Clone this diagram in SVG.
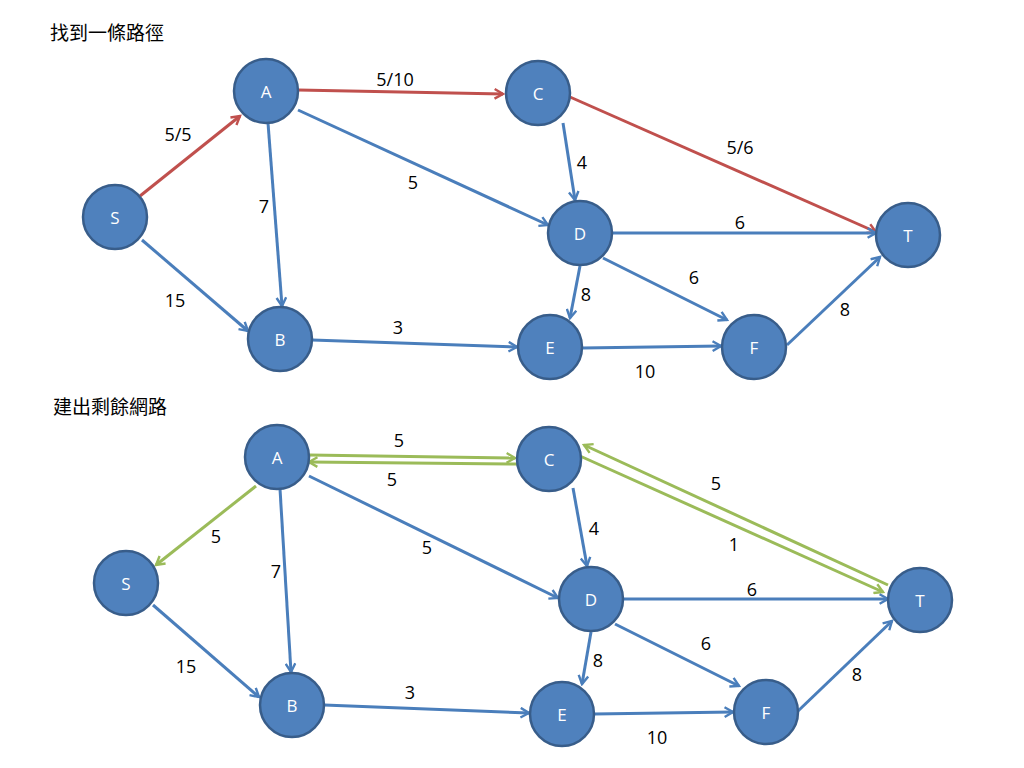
<svg xmlns="http://www.w3.org/2000/svg" width="1024" height="768" viewBox="0 0 1024 768">
<style>
.n circle{fill:#4F81BD;stroke:#385D8A;stroke-width:2.5}
.n text{fill:#fff;font-family:"Open Sans","Liberation Sans",sans-serif;font-size:17px;text-anchor:middle;dominant-baseline:central}
.e line{stroke-width:3;fill:none}
.b{stroke:#4A7EBB;marker-end:url(#mb)}
.r{stroke:#C0504D;marker-end:url(#mr)}
.g{stroke:#9BBB59;marker-end:url(#mg)}
.l{font-family:"Open Sans","Liberation Sans",sans-serif;font-size:18px;fill:#000;text-anchor:middle}
.t{font-family:"Noto Sans CJK TC",sans-serif;font-size:19px;fill:#000}
</style>
<defs>
<marker id="mb" viewBox="0 0 10 10" refX="8" refY="5" markerWidth="4" markerHeight="4" orient="auto" markerUnits="strokeWidth"><path d="M1,1 L8,5 L1,9" fill="none" stroke="#4A7EBB" stroke-width="2"/></marker>
<marker id="mr" viewBox="0 0 10 10" refX="8" refY="5" markerWidth="4" markerHeight="4" orient="auto" markerUnits="strokeWidth"><path d="M1,1 L8,5 L1,9" fill="none" stroke="#C0504D" stroke-width="2"/></marker>
<marker id="mg" viewBox="0 0 10 10" refX="8" refY="5" markerWidth="4" markerHeight="4" orient="auto" markerUnits="strokeWidth"><path d="M1,1 L8,5 L1,9" fill="none" stroke="#9BBB59" stroke-width="2"/></marker>
</defs>
<text class="t" x="50" y="40">找到一條路徑</text>
<text class="t" x="53" y="414">建出剩餘網路</text>
<g id="connectors" class="e">
<line class="r" x1="140" y1="196" x2="240" y2="116"/>
<line class="r" x1="298" y1="90" x2="503" y2="94"/>
<line class="r" x1="570" y1="97" x2="876" y2="232"/>
<line class="b" x1="298" y1="110" x2="548" y2="225"/>
<line class="b" x1="268" y1="123" x2="282" y2="306"/>
<line class="b" x1="563" y1="123" x2="575" y2="200"/>
<line class="b" x1="142" y1="240" x2="248" y2="331"/>
<line class="b" x1="612" y1="233" x2="876" y2="233"/>
<line class="b" x1="580" y1="266" x2="570" y2="318"/>
<line class="b" x1="603" y1="258" x2="727" y2="320"/>
<line class="b" x1="312" y1="340" x2="517" y2="347"/>
<line class="b" x1="582" y1="348" x2="721" y2="346"/>
<line class="b" x1="787" y1="345" x2="880" y2="257"/>

<line class="g" x1="309" y1="455" x2="515" y2="458"/>
<line class="g" x1="517" y1="464" x2="309" y2="462"/>
<line class="g" x1="256" y1="486" x2="156" y2="565"/>
<line class="g" x1="888" y1="585" x2="584" y2="445"/>
<line class="g" x1="580" y1="456" x2="883" y2="592"/>
<line class="b" x1="309" y1="476" x2="558" y2="598"/>
<line class="b" x1="280" y1="489" x2="291" y2="672"/>
<line class="b" x1="573" y1="488" x2="587" y2="566"/>
<line class="b" x1="153" y1="605" x2="259" y2="697"/>
<line class="b" x1="623" y1="599" x2="888" y2="599"/>
<line class="b" x1="591" y1="632" x2="582" y2="684"/>
<line class="b" x1="615" y1="624" x2="739" y2="686"/>
<line class="b" x1="324" y1="705" x2="529" y2="713"/>
<line class="b" x1="594" y1="714" x2="733" y2="712"/>
<line class="b" x1="798" y1="711" x2="892" y2="621"/>
</g>
<g id="labels">
<text class="l" x="178" y="141">5/5</text>
<text class="l" x="395" y="86">5/10</text>
<text class="l" x="740" y="154">5/6</text>
<text class="l" x="413" y="189">5</text>
<text class="l" x="264" y="213">7</text>
<text class="l" x="582" y="169">4</text>
<text class="l" x="175" y="307">15</text>
<text class="l" x="740" y="229">6</text>
<text class="l" x="586" y="301">8</text>
<text class="l" x="694" y="284">6</text>
<text class="l" x="398" y="334">3</text>
<text class="l" x="645" y="378">10</text>
<text class="l" x="845" y="316">8</text>
<text class="l" x="399" y="447">5</text>
<text class="l" x="392" y="486">5</text>
<text class="l" x="216" y="543">5</text>
<text class="l" x="716" y="490">5</text>
<text class="l" x="734" y="551">1</text>
<text class="l" x="427" y="554">5</text>
<text class="l" x="276" y="578">7</text>
<text class="l" x="594" y="535">4</text>
<text class="l" x="186" y="673">15</text>
<text class="l" x="752" y="596">6</text>
<text class="l" x="598" y="667">8</text>
<text class="l" x="706" y="650">6</text>
<text class="l" x="410" y="699">3</text>
<text class="l" x="657" y="744">10</text>
<text class="l" x="857" y="681">8</text>
</g>
<g id="A1" class="n"><circle cx="266" cy="91" r="32"/><text x="266" y="91">A</text></g>
<g id="C1" class="n"><circle cx="538" cy="93" r="32"/><text x="538" y="93">C</text></g>
<g id="S1" class="n"><circle cx="115" cy="217" r="32"/><text x="115" y="217">S</text></g>
<g id="D1" class="n"><circle cx="580" cy="233" r="32"/><text x="580" y="233">D</text></g>
<g id="T1" class="n"><circle cx="908" cy="235" r="32"/><text x="908" y="235">T</text></g>
<g id="B1" class="n"><circle cx="280" cy="339" r="32"/><text x="280" y="339">B</text></g>
<g id="E1" class="n"><circle cx="550" cy="347" r="32"/><text x="550" y="347">E</text></g>
<g id="F1" class="n"><circle cx="754" cy="347" r="32"/><text x="754" y="347">F</text></g>
<g id="A2" class="n"><circle cx="277" cy="457" r="32"/><text x="277" y="457">A</text></g>
<g id="C2" class="n"><circle cx="549" cy="459" r="32"/><text x="549" y="459">C</text></g>
<g id="S2" class="n"><circle cx="126" cy="583" r="32"/><text x="126" y="583">S</text></g>
<g id="D2" class="n"><circle cx="591" cy="599" r="32"/><text x="591" y="599">D</text></g>
<g id="T2" class="n"><circle cx="920" cy="600" r="32"/><text x="920" y="600">T</text></g>
<g id="B2" class="n"><circle cx="292" cy="705" r="32"/><text x="292" y="705">B</text></g>
<g id="E2" class="n"><circle cx="562" cy="714" r="32"/><text x="562" y="714">E</text></g>
<g id="F2" class="n"><circle cx="766" cy="712" r="32"/><text x="766" y="712">F</text></g>
</svg>
